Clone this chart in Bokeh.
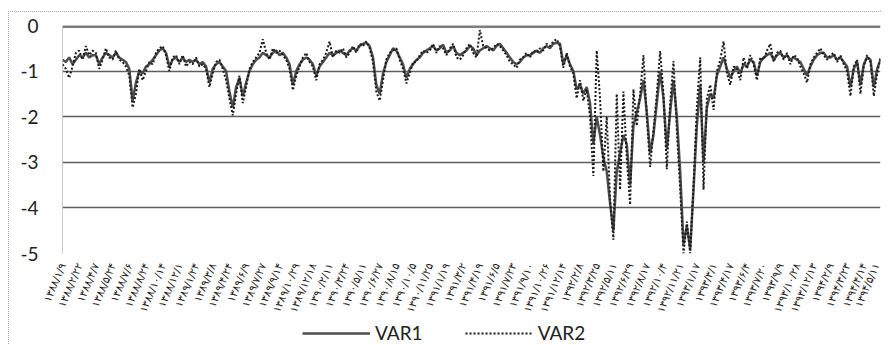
from bokeh.plotting import figure
from bokeh.layouts import column
from bokeh.models import ColumnDataSource, Range1d, FixedTicker, Span, Legend, LegendItem
from bokeh.embed import file_html
from bokeh.resources import INLINE

VAR1 = [
    -0.75, -0.8, -0.7, -0.85, -0.75, -0.65, -0.7, -0.6, -0.7, -0.65,
    -0.65, -0.85, -0.7, -0.6, -0.65, -0.7, -0.6, -0.7, -0.75, -0.8,
    -0.95, -1.65, -1.25, -1.0, -1.05, -0.9, -0.85, -0.75, -0.65, -0.55,
    -0.5, -0.6, -0.9, -0.75, -0.7, -0.8, -0.7, -0.8, -0.75, -0.8,
    -0.75, -0.85, -0.8, -0.9, -1.25, -0.95, -0.85, -0.8, -0.9, -1.0,
    -1.45, -1.8, -1.35, -1.15, -1.55, -1.25, -1.0, -0.85, -0.75, -0.7,
    -0.6, -0.65, -0.7, -0.6, -0.55, -0.65, -0.6, -0.7, -0.85, -1.3,
    -1.0, -0.85, -0.75, -0.7, -0.75, -0.85, -1.1, -0.9, -0.8, -0.7,
    -0.6, -0.65, -0.6, -0.55, -0.6, -0.65, -0.55, -0.5, -0.55, -0.45,
    -0.4, -0.38, -0.45, -0.7, -1.3, -1.5, -1.05, -0.8, -0.65, -0.5,
    -0.55, -0.7, -0.85, -1.15, -0.95, -0.85, -0.75, -0.7, -0.6, -0.55,
    -0.5, -0.45, -0.55, -0.5, -0.42, -0.6, -0.55, -0.45, -0.6, -0.65,
    -0.6, -0.55, -0.45, -0.5, -0.65, -0.55, -0.5, -0.45, -0.5, -0.55,
    -0.45, -0.4, -0.5, -0.6, -0.7, -0.8, -0.85, -0.8, -0.7, -0.65,
    -0.65, -0.6, -0.55, -0.6, -0.5, -0.45, -0.5, -0.4, -0.38, -0.4,
    -0.85, -0.65, -0.85, -1.0, -1.4, -1.3, -1.5, -1.35, -1.7, -2.6,
    -2.0, -2.4, -2.9, -3.2, -3.9, -4.5, -3.2, -2.8, -2.4, -2.6,
    -3.5, -2.2, -1.9, -1.6, -1.2, -1.9, -2.8, -2.4, -1.7, -1.0,
    -1.6, -2.7, -1.9, -1.2, -2.0, -3.2, -4.8, -4.4, -4.9, -3.6,
    -2.2, -1.3, -3.0, -1.8, -1.5, -1.6, -1.1, -0.9, -0.7, -0.95,
    -1.15, -1.0, -0.9, -1.05, -0.85, -0.9, -0.75, -0.8, -1.1, -0.8,
    -0.7, -0.65, -0.6, -0.75, -0.65, -0.6, -0.7, -0.65, -0.75, -0.7,
    -0.75, -0.8, -0.95, -1.1, -0.9, -0.75, -0.65, -0.6, -0.6, -0.7,
    -0.7, -0.65, -0.75, -0.7, -0.8, -0.9, -1.35, -0.95, -0.8, -1.3,
    -0.85, -0.7, -0.75, -1.35, -0.95, -0.75,
]

VAR2 = [
    -0.85, -0.95, -1.15, -0.9, -0.6, -0.55, -0.75, -0.45, -0.65, -0.55,
    -0.6, -0.95, -0.75, -0.5, -0.7, -0.75, -0.55, -0.75, -0.8, -0.9,
    -1.1, -1.8, -1.5, -0.95, -1.2, -1.0, -0.8, -0.85, -0.6, -0.5,
    -0.45, -0.65, -1.0, -0.7, -0.65, -0.85, -0.65, -0.9, -0.8, -0.85,
    -0.7, -0.9, -0.85, -0.95, -1.35, -1.05, -0.8, -0.75, -0.95, -1.2,
    -1.6, -1.97, -1.5, -1.1, -1.7, -1.35, -0.95, -0.8, -0.7, -0.6,
    -0.3, -0.6, -0.75, -0.5, -0.6, -0.55, -0.65, -0.75, -0.95, -1.42,
    -1.1, -0.9, -0.7, -0.6, -0.8, -0.9, -1.2, -0.85, -0.75, -0.6,
    -0.35, -0.7, -0.55, -0.6, -0.5, -0.7, -0.6, -0.45, -0.6, -0.4,
    -0.45, -0.35, -0.5, -0.8, -1.45, -1.65, -1.2, -0.75, -0.6, -0.55,
    -0.5, -0.75, -0.95, -1.27, -1.05, -0.8, -0.8, -0.65, -0.55, -0.6,
    -0.55, -0.4, -0.6, -0.45, -0.5, -0.65, -0.5, -0.4, -0.7, -0.75,
    -0.65, -0.5, -0.4, -0.6, -0.7, -0.1, -0.45, -0.5, -0.55, -0.5,
    -0.4, -0.45, -0.55, -0.65, -0.8, -0.85, -0.93, -0.75, -0.7, -0.6,
    -0.7, -0.55, -0.6, -0.5, -0.55, -0.4, -0.45, -0.35, -0.3, -0.45,
    -0.93, -0.6, -0.9, -1.05, -1.6, -1.2, -1.65, -1.4, -2.0, -3.3,
    -0.55, -1.6, -3.2, -2.0, -3.8, -4.7, -1.5, -3.6, -1.45, -2.9,
    -3.93, -1.4, -2.2, -1.5, -0.65, -2.0, -3.1, -2.3, -1.5, -0.56,
    -1.5, -3.15, -1.7, -0.78, -2.3, -3.6, -5.0, -4.3, -5.0, -3.5,
    -1.8, -0.7, -3.6, -1.6, -1.3, -1.85, -1.0, -0.75, -0.35, -1.05,
    -1.3, -0.9, -0.95, -1.2, -0.7, -0.95, -0.65, -0.85, -1.2, -0.7,
    -0.75, -0.55, -0.4, -0.8, -0.6, -0.55, -0.75, -0.6, -0.85, -0.65,
    -0.7, -0.9, -1.05, -1.25, -0.85, -0.7, -0.6, -0.5, -0.65, -0.75,
    -0.65, -0.6, -0.8, -0.65, -0.85, -1.0, -1.55, -0.9, -0.75, -1.5,
    -0.9, -0.65, -0.8, -1.55, -1.05, -0.7,
]

TICK_LABELS = [
    "۱۳۸۸/۱/۹", "۱۳۸۸/۲/۲۲", "۱۳۸۸/۴/۷", "۱۳۸۸/۵/۲۴", "۱۳۸۸/۷/۶",
    "۱۳۸۸/۸/۲۴", "۱۳۸۸/۱۰/۱۴", "۱۳۸۸/۱۲/۱", "۱۳۸۹/۱/۲۴", "۱۳۸۹/۳/۸",
    "۱۳۸۹/۴/۲۴", "۱۳۸۹/۶/۹", "۱۳۸۹/۷/۲۷", "۱۳۸۹/۹/۱۴", "۱۳۸۹/۱۰/۲۹",
    "۱۳۸۹/۱۲/۱۸", "۱۳۹۰/۲/۱۱", "۱۳۹۰/۳/۲۴", "۱۳۹۰/۵/۱۱", "۱۳۹۰/۶/۲۷",
    "۱۳۹۰/۸/۱۵", "۱۳۹۰/۱۰/۵", "۱۳۹۰/۱۱/۲۵", "۱۳۹۱/۱/۱۹", "۱۳۹۱/۳/۲",
    "۱۳۹۱/۴/۱۹", "۱۳۹۱/۶/۵", "۱۳۹۱/۷/۲۳", "۱۳۹۱/۹/۱۰", "۱۳۹۱/۱۰/۲۶",
    "۱۳۹۱/۱۲/۱۴", "۱۳۹۲/۲/۸", "۱۳۹۲/۳/۲۵", "۱۳۹۲/۵/۱۱", "۱۳۹۲/۶/۲۹",
    "۱۳۹۲/۸/۱۷", "۱۳۹۲/۱۰/۴", "۱۳۹۲/۱۱/۲۱", "۱۳۹۳/۱/۱۷", "۱۳۹۳/۳/۱",
    "۱۳۹۳/۴/۱۷", "۱۳۹۳/۶/۴", "۱۳۹۳/۷/۲۰", "۱۳۹۳/۹/۹", "۱۳۹۳/۱۰/۲۸",
    "۱۳۹۳/۱۲/۱۳", "۱۳۹۴/۲/۹", "۱۳۹۴/۳/۲۳", "۱۳۹۴/۴/۱۴", "۱۳۹۴/۵/۱۱",
]
LABEL_EVERY = 5

Y_TICKS = [0, -1, -2, -3, -4, -5]
Y_LABELS = ["0", "-1", "-2", "-3", "-4", "-5"]

SERIES_NAMES = ["VAR1", "VAR2"]

STYLE1 = dict(line_color="#4d4d4d", line_width=2.5)
STYLE2 = dict(line_color="#1a1a1a", line_width=2, line_dash="2 2")

n = len(VAR1)
src = ColumnDataSource(dict(x=list(range(n)), v1=VAR1, v2=VAR2))

p = figure(width=872, height=310, output_backend="svg", toolbar_location=None,
           x_range=Range1d(0, n - 1), y_range=Range1d(-5, 0),
           min_border_left=53, min_border_right=1, min_border_top=13, min_border_bottom=69)
p.outline_line_color = None
p.background_fill_color = "white"
p.border_fill_color = "white"

p.line("x", "v1", source=src, **STYLE1)
p.line("x", "v2", source=src, **STYLE2)

p.add_layout(Span(location=0, dimension="width", line_color="#7d7d7d", line_width=5))

tick_pos = [i * LABEL_EVERY for i in range(len(TICK_LABELS))]
p.xaxis.ticker = FixedTicker(ticks=tick_pos)
p.xaxis.major_label_overrides = {t: lab for t, lab in zip(tick_pos, TICK_LABELS)}
p.xaxis.major_label_orientation = 1.17
p.xaxis.major_label_text_font = "DejaVu Sans"
p.xaxis.major_label_text_font_size = "10.5px"
p.xaxis.major_label_text_color = "#222222"
p.xaxis.axis_line_color = None
p.xaxis.major_tick_line_color = None
p.xaxis.major_tick_out = 0
p.xaxis.major_tick_in = 0
p.xaxis.minor_tick_line_color = None
p.xaxis.major_label_standoff = 10

p.yaxis.ticker = FixedTicker(ticks=Y_TICKS)
p.yaxis.major_label_overrides = {t: lab for t, lab in zip(Y_TICKS, Y_LABELS)}
p.yaxis.major_label_text_font = "Lato"
p.yaxis.major_label_text_font_size = "19px"
p.yaxis.major_label_text_color = "#222222"
p.yaxis.axis_line_color = "#999999"
p.yaxis.axis_line_dash = "1 1"
p.yaxis.major_tick_line_color = None
p.yaxis.major_tick_out = 0
p.yaxis.major_tick_in = 0
p.yaxis.minor_tick_line_color = None
p.yaxis.major_label_standoff = 24

p.xgrid.grid_line_color = None
p.ygrid.grid_line_color = "#5e5e5e"
p.ygrid.grid_line_width = 1.5

# legend strip under the chart (frame is aligned with the chart's frame by the column)
pl = figure(width=872, height=22, output_backend="svg", toolbar_location=None,
            x_range=Range1d(0, 1), y_range=Range1d(0, 1),
            min_border_left=0, min_border_right=0, min_border_top=0, min_border_bottom=0)
pl.axis.visible = False
pl.grid.grid_line_color = None
pl.outline_line_color = None
pl.border_fill_color = "white"
nan = float("nan")
lr1 = pl.line(x=[nan, nan], y=[nan, nan], **STYLE1)
lr2 = pl.line(x=[nan, nan], y=[nan, nan], **STYLE2)
legend = Legend(items=[LegendItem(label=SERIES_NAMES[0], renderers=[lr1]),
                       LegendItem(label=SERIES_NAMES[1], renderers=[lr2])],
                location=(240, 0), orientation="horizontal",
                glyph_width=68, glyph_height=20, label_height=20, label_standoff=5, spacing=42,
                padding=0, margin=0, border_line_color=None, background_fill_alpha=0,
                label_text_font="Lato", label_text_font_size="19px", label_text_color="#222222")
pl.add_layout(legend, "center")

layout = column(p, pl, spacing=0,
                styles={"margin-left": "8px", "margin-top": "11px",
                        "border-left": "1px dotted #aaaaaa", "border-top": "1px dotted #aaaaaa"})

open("out.html", "w").write(file_html(layout, INLINE))
